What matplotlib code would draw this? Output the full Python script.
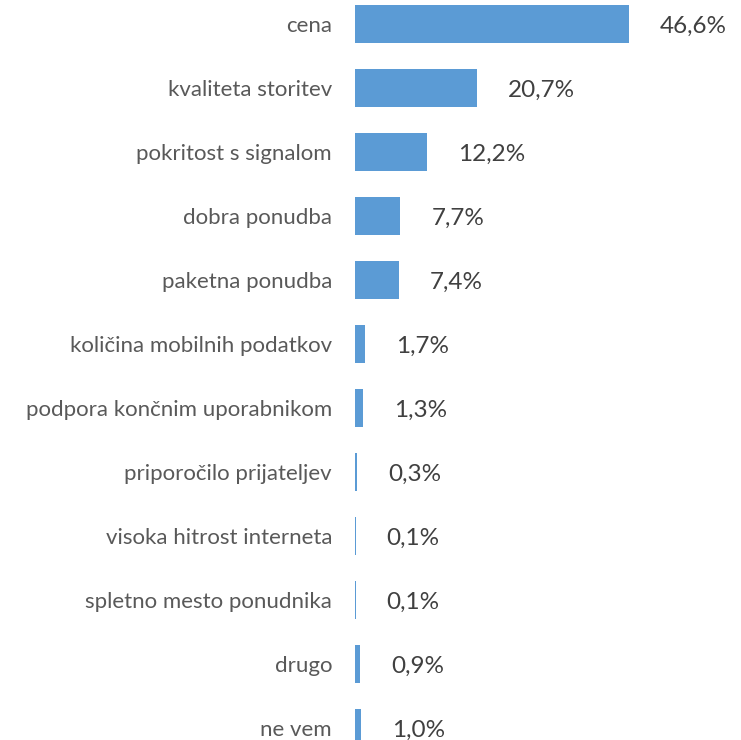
import matplotlib
matplotlib.use("Agg")
import matplotlib.pyplot as plt

categories = ["cena", "kvaliteta storitev", "pokritost s signalom", "dobra ponudba",
              "paketna ponudba", "količina mobilnih podatkov", "podpora končnim uporabnikom",
              "priporočilo prijateljev", "visoka hitrost interneta", "spletno mesto ponudnika",
              "drugo", "ne vem"]
values = [46.6, 20.7, 12.2, 7.7, 7.4, 1.7, 1.3, 0.3, 0.1, 0.1, 0.9, 1.0]
value_labels = ["46,6%", "20,7%", "12,2%", "7,7%", "7,4%", "1,7%", "1,3%",
                "0,3%", "0,1%", "0,1%", "0,9%", "1,0%"]

W, H = 741, 740
fig = plt.figure(figsize=(W / 100, H / 100), dpi=100)
left_px = 355
ax = fig.add_axes([left_px / W, 0, (W - left_px) / W, 1])
px_per_unit = 5.88
ax.set_xlim(0, (W - left_px) / px_per_unit)
ax.set_ylim(11 + (H - 728) / 64, -24 / 64)

ys = list(range(len(categories)))
ax.barh(ys, values, height=0.6, color="#5B9BD5")
for y, v, lab in zip(ys, values, value_labels):
    ax.annotate(lab, (v, y), xytext=(31 * 0.72, -2 * 0.72), textcoords="offset points",
                ha="left", va="center", fontsize=17.5, color="#404040", family="Lato")

ax.set_yticks(ys)
ax.set_yticklabels(categories, fontsize=16.0, color="#595959", family="Lato")
ax.tick_params(axis="y", length=0, pad=23 * 0.72)
ax.set_xticks([])
for s in ax.spines.values():
    s.set_visible(False)

fig.savefig("out.png", dpi=100)
